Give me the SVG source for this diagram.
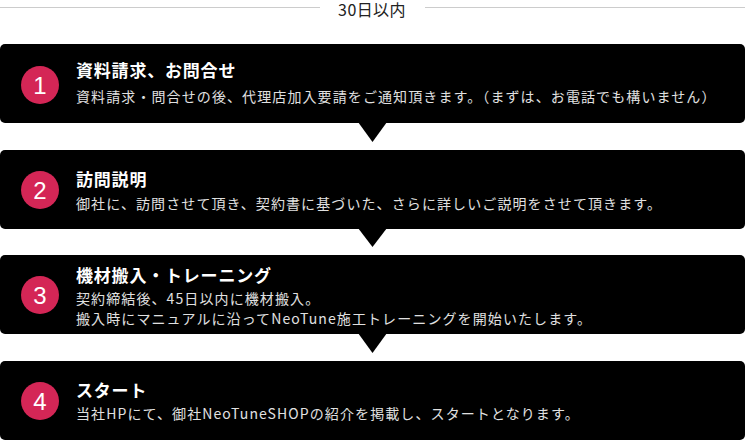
<svg xmlns="http://www.w3.org/2000/svg" width="745" height="441" viewBox="0 0 745 441">
<style>
.box{fill:#000}
.num{fill:#d42656}
.numt{fill:#fff;font-family:"Liberation Sans","Noto Sans CJK JP",sans-serif;font-size:24px;text-anchor:middle}
.title{fill:#fff;font-family:"Noto Sans CJK JP",sans-serif;font-size:17px;font-weight:bold;letter-spacing:0.8px}
.sub{fill:#e0e0e0;font-family:"Noto Sans CJK JP",sans-serif;font-size:14px;letter-spacing:1.1px}
.hdr{fill:#222;font-family:"Noto Sans CJK JP",sans-serif;font-size:16px;text-anchor:middle;letter-spacing:0.4px}
.rule{stroke:#cccccc;stroke-width:1}
.arrow{fill:#000}
</style>
<g id="header">
<line class="rule" x1="0" y1="7.5" x2="320" y2="7.5"/>
<line class="rule" x1="425" y1="7.5" x2="745" y2="7.5"/>
<text class="hdr" x="372" y="15.5">30日以内</text>
</g>
<g id="connectors">
<polygon class="arrow" points="358,122 387,122 372.5,142"/>
<polygon class="arrow" points="358,228 387,228 372.5,247"/>
<polygon class="arrow" points="358,333 387,333 372.5,353"/>
</g>
<g id="step1">
<rect class="box" x="0" y="44" width="745" height="79" rx="5"/>
<circle class="num" cx="40" cy="85" r="19"/>
<text class="numt" x="40" y="93.5">1</text>
<text class="title" x="76" y="77">資料請求、お問合せ</text>
<text class="sub" x="76" y="102">資料請求・問合せの後、代理店加入要請をご通知頂きます。（まずは、お電話でも構いません）</text>
</g>
<g id="step2">
<rect class="box" x="0" y="150" width="745" height="79" rx="5"/>
<circle class="num" cx="40" cy="190" r="19"/>
<text class="numt" x="40" y="198.5">2</text>
<text class="title" x="76" y="186">訪問説明</text>
<text class="sub" x="76" y="209">御社に、訪問させて頂き、契約書に基づいた、さらに詳しいご説明をさせて頂きます。</text>
</g>
<g id="step3">
<rect class="box" x="0" y="255" width="745" height="79" rx="5"/>
<circle class="num" cx="40" cy="295" r="19"/>
<text class="numt" x="40" y="303.5">3</text>
<text class="title" x="76" y="282">機材搬入・トレーニング</text>
<text class="sub" x="76" y="304">契約締結後、45日以内に機材搬入。</text>
<text class="sub" x="76" y="324">搬入時にマニュアルに沿ってNeoTune施工トレーニングを開始いたします。</text>
</g>
<g id="step4">
<rect class="box" x="0" y="361" width="745" height="79" rx="5"/>
<circle class="num" cx="40" cy="401" r="19"/>
<text class="numt" x="40" y="409.5">4</text>
<text class="title" x="76" y="397">スタート</text>
<text class="sub" x="76" y="419">当社HPにて、御社NeoTuneSHOPの紹介を掲載し、スタートとなります。</text>
</g>
</svg>
